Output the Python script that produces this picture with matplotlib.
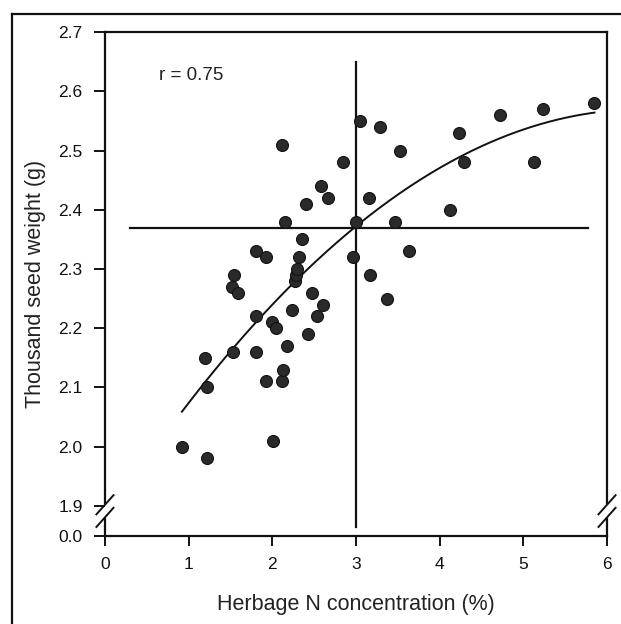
import matplotlib.pyplot as plt
import numpy as np
from matplotlib.lines import Line2D

plt.rcParams['font.family'] = ['Liberation Sans', 'DejaVu Sans']

# data
n_conc = [0.92, 1.22, 1.20, 1.22, 1.53, 1.52, 1.54, 1.59, 1.80, 1.93,
          1.81, 1.81, 1.93, 2.00, 2.05, 2.01, 2.11, 2.13, 2.17, 2.12,
          2.15, 2.23, 2.27, 2.28, 2.29, 2.32, 2.35, 2.40, 2.43, 2.47,
          2.53, 2.60, 2.58, 2.67, 2.84, 2.97, 3.00, 3.05, 3.15, 3.17,
          3.29, 3.37, 3.47, 3.52, 3.63, 4.12, 4.23, 4.29, 4.72, 5.13,
          5.23, 5.84]
seed_wt = [2.00, 1.98, 2.15, 2.10, 2.16, 2.27, 2.29, 2.26, 2.33, 2.32,
           2.22, 2.16, 2.11, 2.21, 2.20, 2.01, 2.11, 2.13, 2.17, 2.51,
           2.38, 2.23, 2.28, 2.29, 2.30, 2.32, 2.35, 2.41, 2.19, 2.26,
           2.22, 2.24, 2.44, 2.42, 2.48, 2.32, 2.38, 2.55, 2.42, 2.29,
           2.54, 2.25, 2.38, 2.50, 2.33, 2.40, 2.53, 2.48, 2.56, 2.48,
           2.57, 2.58]

# quadratic fit as drawn (a + b*x + c*x^2), over x range
fit_coef = [1.874, 0.2166, -0.01686]
fit_range = [0.92, 5.85]

mean_n = 3.0
mean_wt = 2.37

x_ticks = [0, 1, 2, 3, 4, 5, 6]
y_tick_labels = ["0.0", "1.9", "2.0", "2.1", "2.2", "2.3", "2.4", "2.5", "2.6", "2.7"]
y_tick_vals = [0.0, 1.9, 2.0, 2.1, 2.2, 2.3, 2.4, 2.5, 2.6, 2.7]

zero_pos = 1.849  # where 0.0 sits on the broken axis

fig = plt.figure(figsize=(6.21, 6.24), dpi=100)
ax = fig.add_axes([0.169, 0.141, 0.8085, 0.8075])

ink = '#111111'

# reference lines through the means
ax.plot([0.30, 5.77], [mean_wt, mean_wt], color=ink, lw=1.6)
ax.plot([mean_n, mean_n], [1.865, 2.649], color=ink, lw=1.6)

# fitted curve
xx = np.linspace(fit_range[0], fit_range[1], 200)
yy = fit_coef[0] + fit_coef[1] * xx + fit_coef[2] * xx ** 2
ax.plot(xx, yy, color=ink, lw=1.4)

ax.plot(n_conc, seed_wt, 'o', ms=8.6, mfc='#2a2a2a', mec='#111111', mew=0.8)

ax.text(0.65, 2.626, "r = 0.75", fontsize=13.5, color='#222222', va='center')

ax.set_xlim(0, 6)
ax.set_ylim(zero_pos, 2.7)
ax.set_xticks(x_ticks)
ax.set_xticklabels([str(t) for t in x_ticks])
ax.set_yticks([zero_pos if v == 0.0 else v for v in y_tick_vals])
ax.set_yticklabels(y_tick_labels)
ax.tick_params(direction='out', width=1.4, colors=ink, labelsize=12.5)
ax.tick_params(axis='x', length=7, pad=8)
ax.tick_params(axis='y', length=8, pad=8)

ax.set_xlabel("Herbage N concentration (%)", fontsize=15.5, color='#222222', labelpad=16)
ax.set_ylabel("Thousand seed weight (g)", fontsize=15.5, color='#222222', labelpad=9)

for s in ['top', 'bottom']:
    ax.spines[s].set_linewidth(1.6)
    ax.spines[s].set_color(ink)
ax.spines['left'].set_visible(False)
ax.spines['right'].set_visible(False)

# broken side spines and break marks
gap_lo, gap_hi = 0.033, 0.066
for xs in [0, 1]:
    ax.add_line(Line2D([xs, xs], [0, gap_lo], transform=ax.transAxes, color=ink,
                       lw=1.6, clip_on=False))
    ax.add_line(Line2D([xs, xs], [gap_hi, 1], transform=ax.transAxes, color=ink,
                       lw=1.6, clip_on=False))
    for yc in [0.037, 0.062]:
        ax.add_line(Line2D([xs - 0.017, xs + 0.017], [yc - 0.019, yc + 0.019],
                           transform=ax.transAxes, color=ink, lw=1.4, clip_on=False))

# outer frame (scan border)
fig.add_artist(Line2D([0.0193, 0.0193], [0, 0.978], transform=fig.transFigure,
                      color=ink, lw=1.6))
fig.add_artist(Line2D([0.0193, 1.0], [0.978, 0.978], transform=fig.transFigure,
                      color=ink, lw=1.6))

fig.savefig("out.png", dpi=100)
